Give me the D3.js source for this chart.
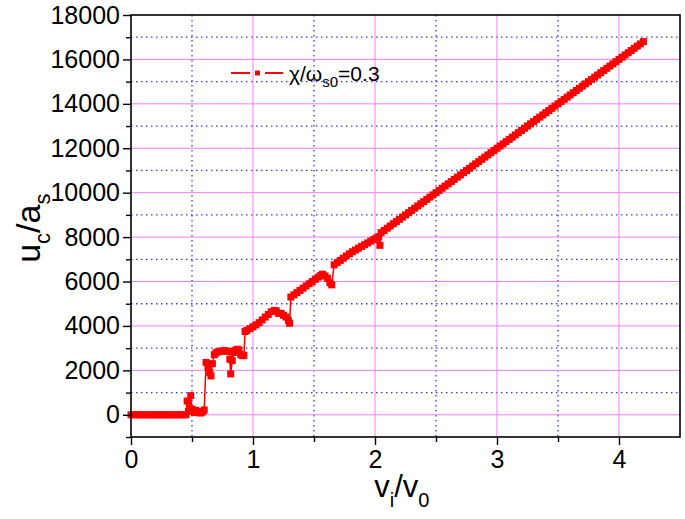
<!DOCTYPE html>
<html>
<head>
<meta charset="UTF-8">
<title>u_c/a_s vs v_i/v_0</title>
<script src="https://d3js.org/d3.v7.min.js"></script>
<style>
  body { margin: 0; background: #fff; }
  text { font-family: "Liberation Sans", Arial, sans-serif; }
</style>
</head>
<body>
<div id="chart"></div>
<script>
// data: v_i/v_0 (xVals) and u_c/a_s (yVals), one line per stretch
var xVals = [
  0, 0.025, 0.05, 0.075, 0.1, 0.125, 0.15, 0.175, 0.2, 0.225, 0.25, 0.275, 0.3, 0.325, 0.35, 0.375, 0.4, 0.425, 0.45,
  0.46, 0.47, 0.48, 0.49, 0.5, 0.51, 0.52, 0.53, 0.54, 0.55, 0.56, 0.57, 0.58, 0.59, 0.6,
  0.615, 0.63, 0.645, 0.656, 0.667, 0.683, 0.695, 0.71, 0.725, 0.74, 0.755, 0.77, 0.785, 0.8, 0.81,
  0.817, 0.83, 0.845, 0.857, 0.87, 0.885, 0.9, 0.915, 0.925,
  0.935, 0.95, 0.975, 1.0, 1.025, 1.05, 1.075, 1.1, 1.125, 1.15, 1.175, 1.19, 1.21, 1.23, 1.25, 1.27, 1.29, 1.3,
  1.31, 1.335, 1.36, 1.385, 1.41, 1.435, 1.46, 1.485, 1.51, 1.535, 1.555, 1.57, 1.59, 1.61, 1.63, 1.645,
  1.665, 1.69, 1.715, 1.74, 1.765, 1.79, 1.815, 1.84, 1.865, 1.89, 1.915, 1.94, 1.965, 1.99, 2.01, 2.03, 2.04,
  2.05, 2.075, 2.1, 2.125, 2.15, 2.175, 2.2, 2.225, 2.25, 2.275, 2.3, 2.325, 2.35, 2.375, 2.4, 2.425, 2.45, 2.475,
  2.5, 2.525, 2.55, 2.575, 2.6, 2.625, 2.65, 2.675, 2.7, 2.725, 2.75, 2.775, 2.8, 2.825, 2.85, 2.875, 2.9, 2.925,
  2.95, 2.975, 3.0, 3.025, 3.05, 3.075, 3.1, 3.125, 3.15, 3.175, 3.2, 3.225, 3.25, 3.275, 3.3, 3.325, 3.35, 3.375,
  3.4, 3.425, 3.45, 3.475, 3.5, 3.525, 3.55, 3.575, 3.6, 3.625, 3.65, 3.675, 3.7, 3.725, 3.75, 3.775, 3.8, 3.825,
  3.85, 3.875, 3.9, 3.925, 3.95, 3.975, 4.0, 4.025, 4.05, 4.075, 4.1, 4.125, 4.15, 4.175, 4.2
];
var yVals = [
  0, 0, 0, 0, 0, 0, 0, 0, 0, 0, 0, 0, 0, 0, 0, 0, 0, 0, 0,
  620, 150, 300, 860, 250, 150, 100, 200, 150, 120, 100, 80, 120, 150, 220,
  2360, 2150, 1900, 1750, 2300, 2700, 2780, 2830, 2850, 2870, 2880, 2880, 2870, 2850, 2500,
  1840, 2440, 2800, 2900, 2950, 2920, 2700, 2660, 2680,
  3750, 3800, 3880, 3960, 4050, 4150, 4270, 4400, 4520, 4640, 4700, 4680, 4560, 4570, 4480, 4400, 4250, 4120,
  5300, 5400, 5500, 5600, 5700, 5800, 5900, 6000, 6100, 6200, 6280, 6330, 6250, 6150, 5950, 5850,
  6750, 6850, 6950, 7050, 7150, 7250, 7340, 7420, 7500, 7580, 7660, 7740, 7820, 7890, 7960, 8020, 7630,
  8200, 8300, 8400, 8500, 8600, 8700, 8800, 8900, 9000, 9100, 9200, 9300, 9400, 9500, 9600, 9700, 9800, 9900,
  10000, 10100, 10200, 10300, 10400, 10500, 10600, 10700, 10800, 10900, 11000, 11100, 11200, 11300, 11400, 11500, 11600, 11700,
  11800, 11900, 12000, 12100, 12200, 12300, 12400, 12500, 12600, 12700, 12800, 12900, 13000, 13100, 13200, 13300, 13400, 13500,
  13600, 13700, 13800, 13900, 14000, 14100, 14200, 14300, 14400, 14500, 14600, 14700, 14800, 14900, 15000, 15100, 15200, 15300,
  15400, 15500, 15600, 15700, 15800, 15900, 16000, 16100, 16200, 16300, 16400, 16500, 16600, 16700, 16800
];
var xTicks = [0, 1, 2, 3, 4];
var xMinor = [0.5, 1.5, 2.5, 3.5];
var yTicks = [0, 2000, 4000, 6000, 8000, 10000, 12000, 14000, 16000, 18000];
var yMinor = [-1000, 1000, 3000, 5000, 7000, 9000, 11000, 13000, 15000, 17000];

var W = 685, H = 519;
var margin = { top: 15, right: 5, bottom: 82, left: 131 };
var width = W - margin.left - margin.right,
    height = H - margin.top - margin.bottom;

var svg = d3.select("#chart").append("svg")
    .attr("width", W).attr("height", H);
var g = svg.append("g")
    .attr("transform", "translate(" + margin.left + "," + margin.top + ")");

var x = d3.scaleLinear().domain([0, 4.5]).range([0, width]);
var y = d3.scaleLinear().domain([-1000, 18000]).range([height, 0]);

// grid: pink solid majors, blue dotted minors
g.selectAll(".gxm").data(xMinor).enter().append("line")
    .attr("x1", d => x(d)).attr("x2", d => x(d))
    .attr("y1", 0).attr("y2", height)
    .attr("stroke", "#3a3ad0").attr("stroke-width", 1.3)
    .attr("stroke-dasharray", "1.5,3.5");
g.selectAll(".gym").data(yMinor.filter(d => d > -1000)).enter().append("line")
    .attr("y1", d => y(d)).attr("y2", d => y(d))
    .attr("x1", 0).attr("x2", width)
    .attr("stroke", "#3a3ad0").attr("stroke-width", 1.3)
    .attr("stroke-dasharray", "1.5,3.5");
g.selectAll(".gx").data(xTicks.filter(d => d > 0)).enter().append("line")
    .attr("x1", d => x(d)).attr("x2", d => x(d))
    .attr("y1", 0).attr("y2", height)
    .attr("stroke", "#f07ef0").attr("stroke-width", 1);
g.selectAll(".gy").data(yTicks.filter(d => d < 18000)).enter().append("line")
    .attr("y1", d => y(d)).attr("y2", d => y(d))
    .attr("x1", 0).attr("x2", width)
    .attr("stroke", "#f07ef0").attr("stroke-width", 1);

// data: thin connecting line plus square markers
var pts = xVals.map((v, i) => [v, yVals[i]]);
g.append("path")
    .datum(pts)
    .attr("fill", "none")
    .attr("stroke", "#ff0000")
    .attr("stroke-width", 1.5)
    .attr("d", d3.line().x(d => x(d[0])).y(d => y(d[1])));
var ms = 7;
g.selectAll(".pt").data(pts).enter().append("rect")
    .attr("x", d => x(d[0]) - ms / 2)
    .attr("y", d => y(d[1]) - ms / 2)
    .attr("width", ms).attr("height", ms)
    .attr("fill", "#ff0000");

// frame
g.append("rect")
    .attr("x", 0).attr("y", 0)
    .attr("width", width).attr("height", height)
    .attr("fill", "none").attr("stroke", "#000").attr("stroke-width", 1.6);

// axes
g.append("g").attr("transform", "translate(0," + height + ")")
    .call(d3.axisBottom(x).tickValues(xTicks).tickFormat(d3.format("d"))
        .tickSize(8).tickPadding(5));
g.append("g").attr("transform", "translate(0," + height + ")")
    .call(d3.axisBottom(x).tickValues(xMinor).tickFormat("").tickSize(5));
g.append("g")
    .call(d3.axisLeft(y).tickValues(yTicks).tickFormat(d3.format("d"))
        .tickSize(8).tickPadding(3));
g.append("g")
    .call(d3.axisLeft(y).tickValues(yMinor).tickFormat("").tickSize(5));
g.selectAll(".domain").remove();
g.selectAll(".tick line").attr("stroke", "#000").attr("stroke-width", 1.4);
g.selectAll(".tick text").attr("fill", "#000")
    .style("font-family", "'Liberation Sans', Arial, sans-serif")
    .style("font-size", "25px");

// axis titles
var xt = svg.append("text")
    .attr("x", margin.left + x(2.22)).attr("y", 497)
    .attr("text-anchor", "middle")
    .style("font-size", "31px");
xt.append("tspan").text("v");
xt.append("tspan").attr("dy", 10).style("font-size", "20px").text("i");
xt.append("tspan").attr("dy", -10).text("/v");
xt.append("tspan").attr("dy", 10).style("font-size", "20px").text("0");

var yt = svg.append("text")
    .attr("transform", "translate(40," + (margin.top + y(8400)) + ") rotate(-90)")
    .attr("text-anchor", "middle")
    .style("font-size", "34px");
yt.append("tspan").text("u");
yt.append("tspan").attr("dy", 10).style("font-size", "22px").text("c");
yt.append("tspan").attr("dy", -10).text("/a");
yt.append("tspan").attr("dy", 10).style("font-size", "22px").text("s");

// legend
var lg = svg.append("g").attr("transform", "translate(231,73)");
lg.append("line").attr("x1", 0).attr("x2", 19).attr("y1", 0).attr("y2", 0)
    .attr("stroke", "#ff0000").attr("stroke-width", 2);
lg.append("line").attr("x1", 34).attr("x2", 52).attr("y1", 0).attr("y2", 0)
    .attr("stroke", "#ff0000").attr("stroke-width", 2);
lg.append("rect").attr("x", 24).attr("y", -2.5).attr("width", 5).attr("height", 5)
    .attr("fill", "#ff0000");
var lt = lg.append("text").attr("x", 58).attr("y", 8).style("font-size", "21px");
lt.append("tspan").text("\u03c7/\u03c9");
lt.append("tspan").attr("dy", 6).style("font-size", "15px").text("s0");
lt.append("tspan").attr("dy", -6).text("=0.3");
</script>
</body>
</html>
